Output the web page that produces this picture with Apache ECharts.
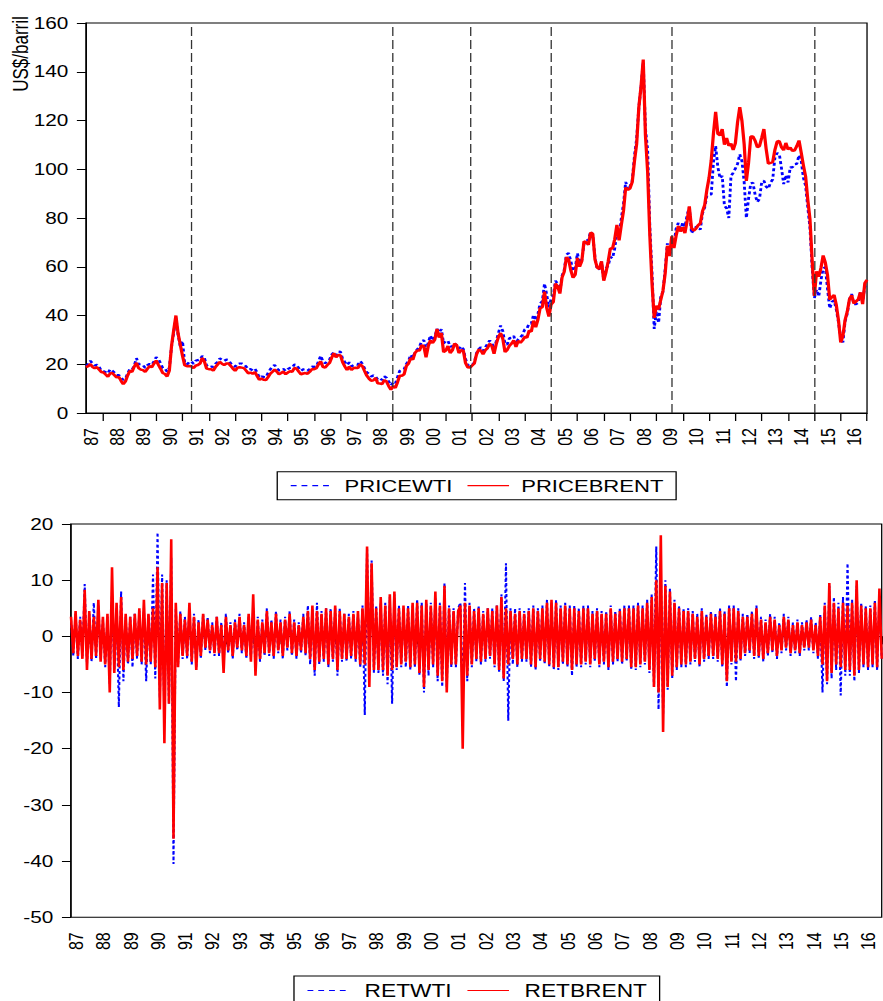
<!DOCTYPE html>
<html>
<head>
<meta charset="utf-8">
<script src="https://cdn.jsdelivr.net/npm/echarts@6/dist/echarts.min.js"></script>
<style>
  html, body { margin: 0; padding: 0; background: #fff; }
  #wrap { width: 883px; height: 1001px; overflow: hidden; }
  /* the chart is laid out at 680px and widened to 883px, as in the original export */
  #chart { width: 680px; height: 1001px; transform: scaleX(1.298529); transform-origin: 0 0; }
</style>
</head>
<body>
<div id="wrap"><div id="chart"></div></div>
<script>
// Monthly observations, May 1987 .. Jan 2017 (US$/barrel)
const FIRST_YEAR = 1987, FIRST_MONTH = 5, N_MONTHS = 357;

const priceBrent = [
  18.8, 19.2, 20.1, 18.9, 18.4, 18.8, 17.8, 16.8,
  16.6, 15.8, 14.9, 16.2, 16.4, 15.5, 14.6, 14.8, 13.2, 11.8, 13.0, 15.4,
  17.3, 16.9, 19.0, 20.6, 18.4, 17.8, 17.6, 16.9, 18.1, 19.2, 18.8, 20.3,
  21.5, 19.8, 18.2, 16.4, 16.0, 15.0, 17.4, 27.5, 34.0, 40.0, 32.5, 28.0,
  23.5, 19.6, 19.2, 19.3, 19.2, 18.4, 19.4, 19.7, 20.3, 22.6, 21.0, 18.2,
  18.0, 18.0, 17.4, 18.8, 19.9, 21.0, 20.2, 19.7, 20.3, 20.3, 19.3, 18.2,
  17.3, 18.5, 18.8, 18.6, 18.4, 17.4, 16.3, 16.6, 16.1, 16.8, 15.2, 13.6,
  14.1, 13.6, 13.5, 14.7, 16.1, 16.9, 17.8, 17.0, 15.9, 16.4, 17.0, 15.9,
  16.6, 17.1, 16.9, 18.5, 18.2, 17.0, 15.9, 16.2, 16.4, 16.1, 16.9, 18.0,
  18.0, 18.4, 20.0, 21.2, 18.9, 18.6, 19.7, 20.5, 22.7, 24.5, 22.9, 23.8,
  23.6, 20.8, 19.1, 17.6, 19.1, 17.6, 18.5, 18.6, 18.5, 20.0, 19.2, 17.2,
  15.3, 14.1, 13.2, 13.4, 14.4, 12.2, 12.1, 11.9, 13.5, 12.9, 11.0, 9.5,
  11.1, 10.3, 12.6, 15.3, 15.3, 15.9, 19.2, 20.3, 22.5, 21.9, 24.7, 25.6,
  25.6, 27.8, 27.4, 22.8, 27.4, 29.8, 28.7, 30.1, 34.5, 31.0, 32.8, 25.0,
  25.6, 27.5, 24.6, 25.7, 28.5, 27.8, 24.6, 25.8, 25.6, 20.5, 18.8, 18.6,
  19.5, 20.3, 24.0, 26.0, 25.6, 24.1, 25.7, 26.6, 28.4, 27.5, 24.3, 28.3,
  31.2, 32.8, 30.4, 25.0, 25.9, 27.6, 28.5, 29.8, 27.1, 29.6, 28.8, 29.8,
  31.3, 30.9, 33.8, 33.4, 37.9, 35.2, 38.3, 43.0, 43.4, 49.8, 43.1, 39.6,
  44.5, 45.5, 53.1, 51.9, 49.0, 55.6, 58.0, 63.9, 63.0, 58.5, 55.5, 56.8,
  63.6, 60.0, 62.3, 70.4, 70.0, 69.0, 74.0, 73.5, 63.0, 59.7, 59.1, 62.2,
  54.3, 57.6, 62.1, 67.5, 67.5, 71.3, 77.2, 70.8, 77.1, 82.9, 92.5, 91.5,
  92.2, 94.8, 103.3, 110.4, 125.5, 134.0, 145.0, 114.0, 99.1, 72.8, 53.2, 39.0,
  44.0, 42.5, 46.5, 50.2, 57.3, 68.6, 64.4, 72.5, 67.7, 72.8, 76.7, 74.5,
  76.2, 73.8, 78.8, 84.8, 75.9, 74.8, 75.6, 77.0, 77.8, 82.7, 85.3, 91.5,
  96.5, 103.7, 114.6, 123.5, 114.5, 113.9, 116.5, 110.1, 112.8, 109.6, 110.5, 107.9,
  110.7, 119.3, 125.5, 119.8, 110.3, 95.2, 102.6, 113.4, 113.4, 111.7, 109.1, 109.5,
  112.9, 116.5, 108.5, 102.3, 102.6, 102.9, 107.9, 111.3, 111.6, 109.1, 107.8, 110.8,
  108.1, 108.9, 107.5, 107.8, 109.5, 111.8, 106.8, 101.6, 97.1, 87.4, 79.4, 62.3,
  48.0, 58.1, 55.9, 59.5, 64.6, 61.7, 56.5, 46.5, 47.6, 48.4, 44.3, 38.0,
  29.0, 31.5, 38.2, 41.6, 46.7, 48.3, 44.9, 45.8, 46.6, 49.5, 44.7, 53.3,
  54.6
];

const priceWti = [
  19.4, 20.0, 21.4, 20.3, 19.5, 19.8, 18.9, 17.3,
  17.1, 16.7, 16.2, 17.9, 17.4, 16.5, 15.5, 15.5, 14.5, 13.6, 14.0, 16.3,
  18.0, 17.8, 19.4, 22.5, 20.0, 20.0, 19.6, 18.5, 19.6, 20.1, 19.8, 21.1,
  22.9, 22.1, 20.4, 18.4, 18.2, 16.9, 18.6, 27.2, 33.0, 39.0, 32.0, 27.3,
  29.5, 20.5, 19.9, 20.8, 21.2, 20.2, 21.4, 21.7, 21.9, 23.4, 22.5, 19.5,
  18.8, 19.0, 18.9, 20.2, 20.9, 22.4, 21.8, 21.4, 21.9, 21.7, 20.3, 19.4,
  19.0, 20.1, 20.3, 20.3, 19.9, 19.1, 17.9, 18.0, 17.5, 18.1, 16.7, 14.5,
  15.0, 14.8, 14.7, 16.4, 17.9, 19.1, 19.7, 18.4, 17.5, 17.7, 18.1, 17.2,
  18.0, 18.5, 18.6, 19.9, 19.7, 18.4, 17.3, 17.9, 18.0, 17.4, 18.0, 19.0,
  18.9, 19.1, 21.3, 23.5, 21.2, 20.4, 21.3, 21.9, 23.9, 24.9, 23.7, 25.2,
  25.1, 22.2, 20.9, 19.7, 20.8, 19.2, 19.6, 19.9, 19.8, 21.3, 20.2, 18.3,
  16.7, 16.1, 15.0, 15.4, 14.9, 13.7, 14.2, 13.5, 15.0, 14.4, 12.9, 11.3,
  12.5, 12.0, 14.7, 17.3, 17.8, 17.9, 20.1, 21.3, 23.9, 22.6, 25.0, 26.1,
  27.2, 29.4, 29.9, 25.7, 28.8, 31.8, 29.7, 31.3, 34.5, 33.1, 34.4, 28.5,
  29.6, 29.6, 27.2, 27.4, 28.6, 27.6, 26.4, 27.4, 26.2, 22.2, 19.6, 19.3,
  19.7, 20.7, 24.5, 26.2, 27.0, 25.5, 26.9, 28.4, 29.7, 28.9, 26.3, 29.4,
  32.9, 35.9, 33.6, 28.3, 28.1, 30.7, 30.8, 31.6, 28.3, 30.3, 31.1, 32.1,
  34.3, 34.7, 36.7, 36.7, 40.3, 38.0, 40.7, 44.9, 45.9, 53.1, 48.5, 43.3,
  46.8, 48.0, 54.3, 53.0, 49.8, 56.3, 58.7, 65.0, 65.6, 62.3, 58.3, 59.4,
  65.5, 61.6, 62.7, 69.4, 70.8, 70.9, 74.4, 73.0, 63.8, 58.9, 59.1, 62.0,
  54.5, 59.3, 60.4, 64.0, 63.5, 67.5, 74.1, 72.4, 79.9, 85.8, 94.8, 91.7,
  93.0, 95.4, 105.5, 112.6, 125.4, 133.9, 144.0, 116.7, 108.0, 76.6, 57.3, 34.5,
  41.7, 37.0, 47.9, 49.7, 59.0, 69.6, 64.2, 71.1, 69.4, 75.7, 78.0, 74.5,
  78.3, 76.4, 81.2, 84.3, 73.7, 75.3, 76.3, 76.6, 75.2, 81.9, 84.3, 89.2,
  89.6, 89.7, 102.9, 109.5, 100.9, 96.3, 97.3, 85.0, 84.0, 80.0, 97.2, 98.6,
  100.3, 102.2, 106.2, 103.3, 94.7, 80.0, 87.9, 94.1, 94.5, 89.5, 86.5, 87.9,
  94.8, 95.3, 92.9, 92.0, 94.5, 95.8, 104.6, 106.6, 106.3, 100.5, 93.9, 97.6,
  94.6, 100.8, 100.8, 102.1, 102.2, 105.8, 103.6, 96.5, 93.2, 84.4, 75.8, 59.3,
  47.2, 50.6, 47.8, 54.5, 59.3, 59.8, 50.9, 42.9, 45.5, 46.2, 42.4, 37.2,
  30.5, 29.0, 37.6, 40.8, 46.7, 48.8, 44.7, 44.7, 45.2, 49.8, 45.7, 52.0,
  52.5
];

// Returns (%), same months
const retBrent = [
  3.5, -3, 4.5, -3.5, 3, -4, 8.3, -6,
  4.5, -4, 3.5, -3.5, 6.5, -4.5, 3.5, -5, 4, -10, 12.3, -6.5,
  6, -5.5, 7, -6, 4, -4.5, 3.5, -4, 4, -3.5, 5, -4.5,
  6.5, -5, 4, -4.5, 5, -5.5, 12.3, -13, 9.5, -19, 9.5, -12,
  17.3, -36, 6, -5.5, 4, -3.5, 3, -3.5, 6, -4.5, 3.5, -6,
  2.5, -3.5, 4, -2, 3, -2.5, 2, -3, 3.5, -3, 2, -6.5,
  3.5, -2.5, 2, -3.5, 2.5, -2, 3.5, -2.5, 2, -3.5, 4, -4.5,
  7.5, -7, 3, -4, 2.5, -3, 4.5, -3, 2.5, -3.5, 4, -2.5,
  2.5, -3.5, 3, -2, 4, -3, 2.5, -3.5, 2, -2.5, 3.5, -3,
  4.5, -4, 5.5, -6, 4.5, -4.5, 4, -4, 5, -5, 4.5, -4,
  5.5, -6, 4.5, -4, 4, -4, 3.5, -3.5, 4, -4, 4.5, -5,
  5, -5, 16, -9, 13, -6, 5, -6, 7, -6, 5.5, -7,
  7.5, -6, 8, -5.5, 5, -5, 5.5, -4.5, 5, -5.5, 6, -5,
  6, -6.5, 5.5, -9, 6.5, -6, 5.5, -5, 8, -7, 5.5, -8,
  9, -10, 5, -5, 4.5, -5, 4.5, 5.5, -20, 6, -7, 5.5,
  -5, 4.5, -4, 5, -4.5, 4, -4, 5, -3.5, 4.5, -5, 5.5,
  -6, 7, -7.5, 5, -5, 4.5, -4, 4, -5, 4.5, -4, 4,
  -4, 4.5, -5, 5, -5.5, 4.5, -4, 5, -4.5, 6, -5, 6.5,
  -5.5, 6, -5.5, 5, -4.5, 5.5, -5, 5, -6, 5, -5, 4.5,
  -5, 5, -4.5, 5, -5, 4, -4, 4.5, -5, 4, -4.5, 4,
  -5.5, 5, -4.5, 4, -4, 4.5, -4.5, 5, -4, 5, -5.5, 5,
  -5.5, 5.5, -5, 5, -4.5, 6, -6, 7, -9, 10, -10, 18,
  -17, 9, -9, 8, -7, 6, -5.5, 5, -5, 4.5, -5, 4.5,
  -4.5, 4, -4, 3.5, -5, 4.5, -4, 3.5, -3.5, 4, -3.5, 3.5,
  -4, 4.5, -5, 4, -8, 5, -4.5, 5, -4.5, 4.5, -4, 3.5,
  -3, 3.5, -2.5, 4, -3.5, 5, -3.5, 3, -4, 2.5, -3, 3.5,
  -2.5, 3, -3.5, 2, -2.5, 3.5, -2, 3, -3, 2, -2.5, 2.5,
  -3, 2, -2, 2.5, -2, 3, -2.5, 2, -3.5, 3.5, -5, 5.5,
  -8, 9.5, -6.5, 6, -5, 5, -5.5, 6, -6, 5.5, -6, 6,
  -7, 10, -6, 5.5, -5, 5, -5.5, 5, -5, 6, -5.5, 8.5,
  -4
];

const retWti = [
  3, -3.5, 4, -4, 3.5, -3.5, 9.3, -5,
  4, -4.5, 6, -4, 5.5, -4, 3, -5.5, 3.5, -8.5, 8, -6,
  5, -12.6, 8, -8, 3.5, -5, 3.5, -5.5, 4, -4, 4.5, -5,
  5, -8, 4, -5, 11, -7.5, 18.5, -11, 11, -15, 10, -12,
  14, -40.5, 5, -5, 4.5, -4, 3.5, -4, 5, -5, 4, -5.5,
  3, -4, 4, -2.5, 3.5, -3, 2.5, -3.5, 3.5, -3.5, 2.5, -5,
  4, -3, 2.5, -4, 3, -2.5, 4, -3, 2.5, -4, 3.5, -4,
  5, -6, 3.5, -4.5, 3, -3.5, 5, -3.5, 3, -4, 4.5, -3,
  3, -4, 3.5, -2.5, 4.5, -3.5, 3, -4, 2.5, -3, 4, -3.5,
  5.5, -5, 5, -7, 6, -5, 4.5, -4.5, 5, -5.5, 5, -4.5,
  5, -7, 5, -4.5, 4, -4.5, 4, -4, 4.5, -4.5, 4, -5.5,
  5.5, -14, 15.5, -7, 13.5, -6.5, 5.5, -6.5, 6, -7, 6, -8.5,
  7, -12, 7.5, -6, 5.5, -5.5, 5, -5.5, 5.5, -6, 5.5, -5.5,
  6.5, -7, 6, -10, 6, -7, 6, -5.5, 7, -8, 6, -9,
  9.5, -9, 5.5, -5.5, 5, -5.5, 5, 6, -12, 9.5, -8, 6,
  -5.5, 5, -4.5, 5.5, -5, 4.5, -4.5, 5, -4, 5, -5.5, 5.5,
  -6.5, 7.5, -8, 13, -15, 5, -5, 5, -5.5, 5, -4.5, 4.5,
  -4.5, 5, -5.5, 5.5, -6, 5, -4.5, 5.5, -5, 6.5, -5.5, 6,
  -6, 6.5, -6, 5.5, -5, 6, -5.5, 5.5, -7, 5.5, -5.5, 5,
  -5.5, 5.5, -5, 5.5, -5.5, 4.5, -4.5, 5, -5.5, 4.5, -5, 4.5,
  -6, 5.5, -5, 4.5, -4.5, 5, -5, 5.5, -4.5, 5.5, -6, 5.5,
  -6, 6, -5.5, 5.5, -5, 6.5, -6.5, 7.5, -9, 16, -13, 12,
  -14, 10, -9.5, 8.5, -7.5, 6.5, -6, 5.5, -5.5, 5, -5.5, 5,
  -5, 4.5, -4.5, 4, -5.5, 5, -4.5, 4, -4, 4.5, -4, 4,
  -4.5, 5, -5.5, 4.5, -9, 5.5, -5, 5.5, -8, 5, -4.5, 4,
  -3.5, 4, -3, 4.5, -4, 5.5, -4, 3.5, -4.5, 3, -3.5, 4,
  -3, 3.5, -4, 2.5, -3, 4, -2.5, 3.5, -3.5, 2.5, -3, 3,
  -3.5, 2.5, -2.5, 3, -2.5, 3.5, -3, 2.5, -4, 4, -10, 6,
  -8.5, 9, -7.5, 7, -6, 6, -10.5, 7, -7, 13, -7, 6.5,
  -8, 9, -6.5, 6, -5.5, 5.5, -6, 5.5, -5.5, 6.5, -6, 7,
  -4
];

// Structural break dates marked on the price panel
const breakMonths = ['1991-05', '1999-01', '2001-12', '2005-01', '2009-08', '2015-01'];

// Month categories 'YYYY-MM'
const months = [];
for (let i = 0; i < N_MONTHS; i++) {
  const m0 = FIRST_MONTH - 1 + i;
  const y = FIRST_YEAR + Math.floor(m0 / 12);
  const m = (m0 % 12) + 1;
  months.push(y + '-' + (m < 10 ? '0' + m : '' + m));
}

const FONT = '"Liberation Sans", Arial, Helvetica, sans-serif';
const BLUE = '#0000ff', RED = '#ff0000';

function xAxisFor(gridIndex) {
  return {
    type: 'category', gridIndex, data: months, boundaryGap: false,
    axisLine: { lineStyle: { color: '#000', width: 1 } },
    axisTick: { length: 8, lineStyle: { color: '#000' },
      interval: (i, v) => v.slice(5) === '01' },
    axisLabel: { rotate: 90, margin: 15, fontSize: 16, color: '#000', fontFamily: FONT,
      interval: (i, v) => v.slice(5) === '07',
      formatter: v => v.slice(2, 4) },
    splitLine: { show: false }
  };
}

function yAxisFor(gridIndex, min, max, interval) {
  return {
    type: 'value', gridIndex, min, max, interval,
    axisLine: { show: true, lineStyle: { color: '#000', width: 1 } },
    axisTick: { show: true, length: 7, lineStyle: { color: '#000' } },
    axisLabel: { margin: 13.6, fontSize: 16, color: '#000', fontFamily: FONT },
    splitLine: { show: false }
  };
}

// Legend keys: long dashes for WTI, solid for Brent, no marker symbol
function legendAt(left, top, wtiName, brentName, gap, fontSize, textGap) {
  return {
    data: [
      { name: wtiName, lineStyle: { type: [4.5, 3.8], width: 1.2 } },
      { name: brentName, lineStyle: { width: 1.2 } }
    ],
    left, top, orient: 'horizontal',
    itemWidth: 32, itemHeight: 12, itemGap: gap,
    padding: [5.5, 9.7, 5.5, 9.8],
    borderColor: '#000', borderWidth: 1, borderRadius: 0,
    itemStyle: { color: 'transparent', borderColor: 'transparent', borderWidth: 0, opacity: 0 },
    textStyle: { fontSize, color: '#000', fontFamily: FONT, padding: [0, 0, 0, textGap] },
    selectedMode: false
  };
}

const chart = echarts.init(document.getElementById('chart'), null, { renderer: 'svg' });
chart.setOption({
  animation: false,
  backgroundColor: '#fff',
  grid: [
    { left: 66.2, top: 23, width: 601.5, height: 390, show: true, borderColor: '#000', borderWidth: 1 },
    { left: 54.7, top: 524, width: 624.3, height: 393.3, show: true, borderColor: '#000', borderWidth: 1 }
  ],
  xAxis: [xAxisFor(0), xAxisFor(1)],
  yAxis: [yAxisFor(0, 0, 160, 20), yAxisFor(1, -50, 20, 10)],
  legend: [
    legendAt(213.5, 471.7, 'PRICEWTI', 'PRICEBRENT', 11, 17, 4.4),
    legendAt(226.4, 976, 'RETWTI', 'RETBRENT', 11.5, 17.5, 7)
  ],
  graphic: [{
    type: 'text', x: 15.8, y: 54, rotation: Math.PI / 2,
    style: { text: 'US$/barril', fontSize: 17, fontFamily: FONT, fill: '#000',
      textAlign: 'center', textVerticalAlign: 'middle' }
  }],
  series: [
    {
      name: 'PRICEWTI', type: 'line', xAxisIndex: 0, yAxisIndex: 0, data: priceWti,
      symbol: 'none', lineStyle: { color: BLUE, width: 2.2, type: [3, 2.5] }, itemStyle: { color: BLUE },
      markLine: {
        silent: true, symbol: 'none', label: { show: false },
        lineStyle: { color: '#333', width: 1, type: [9, 4] },
        data: breakMonths.map(m => ({ xAxis: m }))
      }
    },
    {
      name: 'PRICEBRENT', type: 'line', xAxisIndex: 0, yAxisIndex: 0, data: priceBrent,
      symbol: 'none', lineStyle: { color: RED, width: 2.5 }, itemStyle: { color: RED }
    },
    {
      name: 'RETWTI', type: 'line', xAxisIndex: 1, yAxisIndex: 1, data: retWti,
      symbol: 'none', lineStyle: { color: BLUE, width: 1.6, type: [3, 2.5] }, itemStyle: { color: BLUE }
    },
    {
      name: 'RETBRENT', type: 'line', xAxisIndex: 1, yAxisIndex: 1, data: retBrent,
      symbol: 'none', lineStyle: { color: RED, width: 2 }, itemStyle: { color: RED }
    }
  ]
});
</script>
</body>
</html>
